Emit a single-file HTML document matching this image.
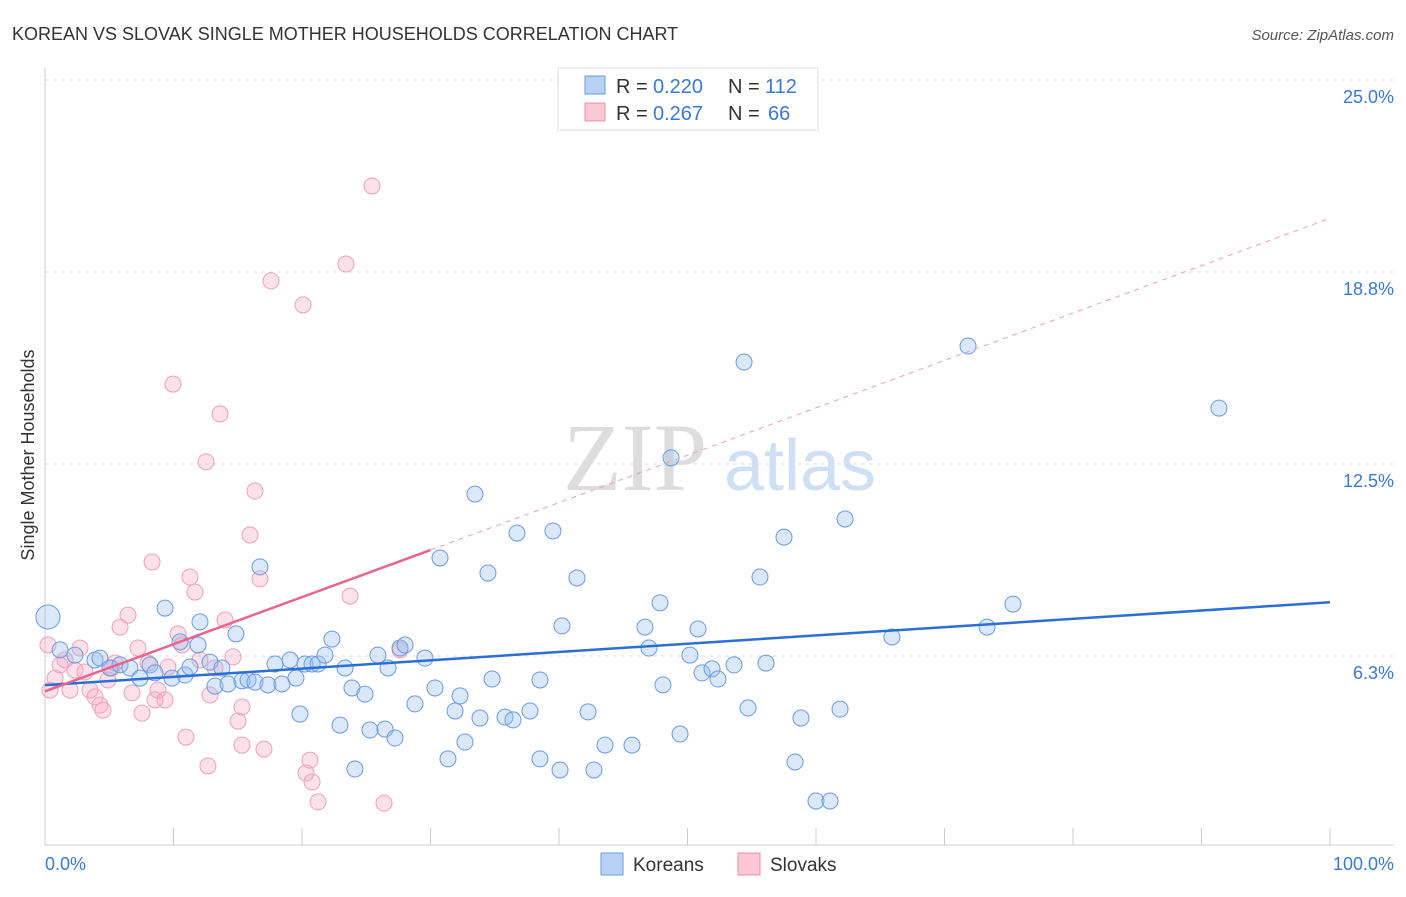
<!DOCTYPE html>
<html><head><meta charset="utf-8"><style>
body{margin:0;background:#fff;font-family:"Liberation Sans",sans-serif}
</style></head><body>
<svg width="1406" height="892" xmlns="http://www.w3.org/2000/svg" font-family="Liberation Sans, sans-serif">
<text x="12" y="40" font-size="18" fill="#333">KOREAN VS SLOVAK SINGLE MOTHER HOUSEHOLDS CORRELATION CHART</text>
<text x="1394" y="40" font-size="15" fill="#555" text-anchor="end" font-style="italic">Source: ZipAtlas.com</text>
<g id="grid"></g>
<text x="635" y="490" font-size="96" fill="#ddd" font-family="Liberation Serif, serif" text-anchor="middle">ZIP</text>
<text x="800" y="490" font-size="72" fill="#cfe0f5" text-anchor="middle">atlas</text>
<g id="pts"></g>
<g id="lines"></g>
<text x="34" y="455" font-size="18" fill="#333" text-anchor="middle" transform="rotate(-90 34 455)">Single Mother Households</text>
<text x="45" y="870" font-size="18" fill="#3a78d4">0.0%</text>
<text x="1394" y="870" font-size="18" fill="#3a78d4" text-anchor="end">100.0%</text>
<g>
<rect x="558" y="68" width="260" height="62" fill="#fff" stroke="#ddd"/>
<rect x="585" y="76" width="20" height="18" fill="#b8d2f5" stroke="#6a9be0"/>
<rect x="585" y="103" width="20" height="18" fill="#fcc8d8" stroke="#e890ad"/>
<text x="616" y="93" font-size="20" fill="#333">R =</text>
<text x="653" y="93" font-size="20" fill="#3a78d4">0.220</text>
<text x="728" y="93" font-size="20" fill="#333">N =</text>
<text x="765" y="93" font-size="20" fill="#3a78d4">112</text>
<text x="616" y="120" font-size="20" fill="#333">R =</text>
<text x="653" y="120" font-size="20" fill="#3a78d4">0.267</text>
<text x="728" y="120" font-size="20" fill="#333">N =</text>
<text x="768" y="120" font-size="20" fill="#3a78d4">66</text>
</g>
<g>
<rect x="601" y="853" width="22" height="22" fill="#b8d2f5" stroke="#6a9be0"/>
<text x="633" y="871" font-size="19" fill="#333">Koreans</text>
<rect x="738" y="853" width="22" height="22" fill="#fcc8d8" stroke="#e890ad"/>
<text x="770" y="871" font-size="19" fill="#333">Slovaks</text>
</g>
</svg>
<script>
const yTicks=[6.25,12.5,18.75,25];
const yTickLabels=["6.3%","12.5%","18.8%","25.0%"];
const koreansPx=[[48,617],[60,650],[75,655],[95,660],[100,658],[110,668],[120,665],[130,668],[140,678],[150,665],[155,673],[165,608],[172,678],[180,642],[185,675],[190,667],[198,645],[200,622],[210,662],[215,686],[222,668],[228,684],[236,634],[242,681],[248,680],[255,682],[260,567],[268,685],[275,664],[282,684],[290,660],[296,678],[300,714],[305,664],[312,664],[318,664],[325,655],[332,639],[340,725],[345,668],[352,688],[355,769],[365,694],[370,730],[378,655],[385,729],[388,668],[395,738],[400,648],[405,645],[415,704],[425,658],[435,688],[440,558],[448,759],[455,711],[460,696],[465,742],[475,494],[480,718],[488,573],[492,679],[505,717],[513,720],[517,533],[530,711],[540,759],[540,680],[553,531],[560,770],[562,626],[577,578],[588,712],[594,770],[605,745],[632,745],[645,627],[649,648],[660,603],[663,685],[671,458],[680,734],[690,655],[698,629],[702,673],[712,669],[718,679],[734,665],[744,362],[748,708],[760,577],[766,663],[784,537],[795,762],[801,718],[816,801],[830,801],[840,709],[845,519],[892,637],[968,346],[987,627],[1013,604],[1219,408]];
const slovaksPx=[[48,645],[50,690],[55,678],[60,665],[65,660],[70,690],[75,670],[80,648],[85,672],[90,690],[95,697],[100,705],[103,710],[108,680],[112,668],[115,663],[120,627],[128,615],[132,693],[138,648],[142,713],[148,663],[152,562],[155,700],[158,690],[165,700],[168,667],[173,384],[178,634],[182,645],[186,737],[190,577],[195,592],[200,660],[206,462],[208,766],[210,695],[215,668],[220,414],[225,620],[233,657],[238,721],[242,707],[242,745],[250,535],[255,491],[260,579],[264,749],[271,281],[303,305],[306,773],[310,760],[312,782],[318,802],[346,264],[350,596],[372,186],[384,803],[400,650]];
const koreanX=koreansPx.map(p=>+((p[0]-45)/12.85).toFixed(2));
const koreanY=koreansPx.map(p=>+((848-p[1])/30.72).toFixed(2));
const slovakX=slovaksPx.map(p=>+((p[0]-45)/12.85).toFixed(2));
const slovakY=slovaksPx.map(p=>+((848-p[1])/30.72).toFixed(2));
const koreanTrend=[5.3,8.0];
const slovakTrend=[5.1,9.7,20.5];
const NS="http://www.w3.org/2000/svg";
const X=v=>45+v*12.85, Y=v=>848-v*30.72;
function mk(tag,attrs,parent){const e=document.createElementNS(NS,tag);for(const k in attrs)e.setAttribute(k,attrs[k]);parent.appendChild(e);return e;}
const grid=document.getElementById('grid');
yTicks.forEach((t,i)=>{
 const l=mk('line',{x1:45,x2:1394,y1:Y(t),y2:Y(t),stroke:'#ddd','stroke-dasharray':'4,4'},grid);
 
 
 const tx=mk('text',{x:1394,y:Y(t)+23,'font-size':18,fill:'#3a78d4','text-anchor':'end'},grid);
 tx.textContent=yTickLabels[i];
 
 
});
mk('line',{x1:45,x2:45,y1:68,y2:845,stroke:'#ccc'},grid);
mk('line',{x1:45,x2:1394,y1:845,y2:845,stroke:'#ccc'},grid);
for(let i=0;i<=10;i++){const t=mk('line',{x1:X(i*10),x2:X(i*10),y1:828,y2:845,stroke:'#ccc'},grid);
 
 }
const pts=document.getElementById('pts');
slovakX.forEach((x,i)=>{const c=mk('circle',{cx:X(x),cy:Y(slovakY[i]),r:8,fill:'rgba(248,170,195,0.35)',stroke:'#eda0b9','stroke-width':1},pts);
 
 });
koreanX.forEach((x,i)=>{const c=mk('circle',{cx:X(x),cy:Y(koreanY[i]),r:i==0?12:8,fill:'rgba(150,190,240,0.35)',stroke:'#6a9be0','stroke-width':1},pts);
 
 });
const lines=document.getElementById('lines');
const kl=mk('line',{x1:X(0),y1:Y(koreanTrend[0]),x2:X(100),y2:Y(koreanTrend[1]),stroke:'#2a6fd6','stroke-width':2.5},lines);


const sl=mk('line',{x1:X(0),y1:Y(slovakTrend[0]),x2:X(30),y2:Y(slovakTrend[1]),stroke:'#e8648f','stroke-width':2.5},lines);


const sd=mk('line',{x1:X(30),y1:Y(slovakTrend[1]),x2:X(100),y2:Y(slovakTrend[2]),stroke:'#e8a0b8','stroke-width':1,'stroke-dasharray':'5,5'},lines);


</script>
</body></html>
